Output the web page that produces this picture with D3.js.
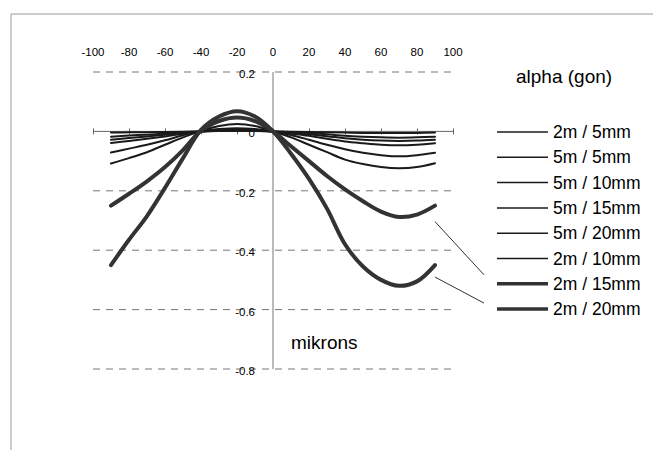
<!DOCTYPE html>
<meta charset="utf-8">
<script src="https://cdn.jsdelivr.net/npm/d3@7"></script>
<style>
body { margin: 0; background: #fff; }
text { font-family: "Liberation Sans", Arial, sans-serif; fill: #000; }
.grid line { stroke: #777; stroke-dasharray: 7,6; }
.tick-lab { font-size: 11.5px; }
.leg { font-size: 17.5px; }
</style>
<body>
<div id="p1"></div>
<script>
// data, x = -90..90 step 10
var xs = [-90,-80,-70,-60,-50,-40,-30,-20,-10,0,10,20,30,40,50,60,70,80,90];
var seriesNames = ["2m / 5mm","5m / 5mm","5m / 10mm","5m / 15mm","5m / 20mm","2m / 10mm","2m / 15mm","2m / 20mm"];
var s2m5  = [-0.028,-0.022,-0.017,-0.011,-0.005,0,0.003,0.004,0.003,0,-0.005,-0.01,-0.016,-0.023,-0.028,-0.031,-0.032,-0.031,-0.028];
var s5m5  = [-0.004,-0.003,-0.003,-0.002,-0.001,0,0.001,0.001,0.001,0,-0.001,-0.002,-0.003,-0.004,-0.005,-0.005,-0.005,-0.005,-0.004];
var s5m10 = [-0.018,-0.014,-0.011,-0.007,-0.003,0,0.002,0.003,0.002,0,-0.003,-0.006,-0.01,-0.015,-0.018,-0.02,-0.021,-0.02,-0.018];
var s5m15 = [-0.039,-0.032,-0.025,-0.017,-0.008,0,0.005,0.006,0.005,0,-0.007,-0.015,-0.025,-0.034,-0.04,-0.045,-0.047,-0.045,-0.04];
var s5m20 = [-0.071,-0.058,-0.045,-0.03,-0.013,0.001,0.008,0.011,0.008,0,-0.012,-0.028,-0.045,-0.06,-0.072,-0.08,-0.084,-0.08,-0.072];
var s2m10 = [-0.108,-0.09,-0.07,-0.045,-0.02,0.001,0.018,0.025,0.018,0,-0.02,-0.045,-0.07,-0.095,-0.11,-0.12,-0.124,-0.12,-0.107];
var s2m15 = [-0.25,-0.21,-0.168,-0.12,-0.063,0.003,0.035,0.047,0.035,0,-0.05,-0.1,-0.15,-0.195,-0.235,-0.27,-0.288,-0.28,-0.25];
var s2m20 = [-0.45,-0.365,-0.285,-0.19,-0.09,0.005,0.05,0.068,0.05,0,-0.075,-0.16,-0.26,-0.38,-0.455,-0.5,-0.52,-0.505,-0.45];
var allSeries = [s2m5,s5m5,s5m10,s5m15,s5m20,s2m10,s2m15,s2m20];
var xTicks = [-100,-80,-60,-40,-20,0,20,40,60,80,100];
var yTicks = [0.2,0,-0.2,-0.4,-0.6,-0.8];

var W = 653, H = 450;
var margin = {top: 72, left: 93};
var width = 360, height = 297;

var svg = d3.select("#p1").append("svg")
    .attr("width", W).attr("height", H);

// frame of the scanned sheet
svg.append("path")
    .attr("d", "M11," + H + "V14H" + W)
    .attr("fill", "none").attr("stroke", "#999").attr("stroke-width", 1);

var x = d3.scaleLinear().domain([-100,100]).range([margin.left, margin.left + width]);
var y = d3.scaleLinear().domain([-0.8,0.2]).range([margin.top + height, margin.top]);

// dashed gridlines
svg.append("g").attr("class","grid")
  .selectAll("line").data(yTicks.filter(function(d){ return d != 0; }))
  .enter().append("line")
    .attr("x1", x(-100)).attr("x2", x(100))
    .attr("y1", function(d){ return y(d); })
    .attr("y2", function(d){ return y(d); });

// vertical axis at x = 0
svg.append("line")
    .attr("x1", x(0)).attr("x2", x(0))
    .attr("y1", y(0.2)).attr("y2", y(-0.8))
    .attr("stroke", "#777").attr("stroke-width", 1);

// horizontal axis at y = 0 with cross ticks
var xAxis = d3.axisBottom(x).tickValues(xTicks).tickSize(3).tickFormat("");
var xg = svg.append("g")
    .attr("transform", "translate(0," + y(0) + ")")
    .call(xAxis);
xg.select(".domain").attr("stroke", "#666").attr("d", "M" + x(-100) + ",0H" + x(100));
xg.selectAll(".tick line").attr("stroke", "#666").attr("y1", -3);

// x tick labels sit on top of the plot
svg.append("g").selectAll("text").data(xTicks).enter().append("text")
    .attr("class", "tick-lab")
    .attr("x", function(d){ return x(d); })
    .attr("y", 56)
    .attr("text-anchor", "middle")
    .text(function(d){ return d; });

// y labels next to the axis
svg.append("g").selectAll("text").data(yTicks).enter().append("text")
    .attr("class", "tick-lab")
    .attr("x", x(0) - 18)
    .attr("y", function(d){ return y(d) + 6; })
    .attr("text-anchor", "end")
    .text(function(d){ return d; });

var line = d3.line()
    .x(function(d, i){ return x(xs[i]); })
    .y(function(d){ return y(d); })
    .curve(d3.curveCatmullRom);

function lw(i){ return i >= 6 ? 4 : 2; }
function col(i){ return i >= 6 ? "#333" : "#1a1a1a"; }

svg.append("g").selectAll("path").data(allSeries).enter().append("path")
    .attr("d", line)
    .attr("fill", "none")
    .attr("stroke", function(d, i){ return col(i); })
    .attr("stroke-width", function(d, i){ return lw(i); })
    .attr("stroke-linecap", "round");

svg.append("text")
    .attr("x", 291).attr("y", 349)
    .style("font-size", "19px")
    .text("mikrons");

// legend
var legX = 497, legY = 132, legStep = 25.3;
svg.append("text")
    .attr("x", 516).attr("y", 83)
    .style("font-size", "19px")
    .text("alpha (gon)");

var leg = svg.append("g").selectAll("g").data(seriesNames).enter().append("g")
    .attr("transform", function(d, i){ return "translate(" + legX + "," + (legY + i * legStep) + ")"; });
leg.append("line")
    .attr("x1", 0).attr("x2", 51)
    .attr("stroke", function(d, i){ return col(i); })
    .attr("stroke-width", function(d, i){ return lw(i) - 0.5; });
leg.append("text")
    .attr("class", "leg")
    .attr("x", 56).attr("y", 6)
    .text(function(d){ return d; });

// leader lines from the two thick curves to their legend rows
[6, 7].forEach(function(i){
  var last = allSeries[i][xs.length - 1];
  svg.append("line")
      .attr("x1", x(90)).attr("y1", y(last) + (i == 6 ? 16 : 12))
      .attr("x2", legX - 13).attr("y2", legY + i * legStep - (i == 6 ? 9 : 6))
      .attr("stroke", "#333").attr("stroke-width", 1);
});
</script>
</body>
</html>
